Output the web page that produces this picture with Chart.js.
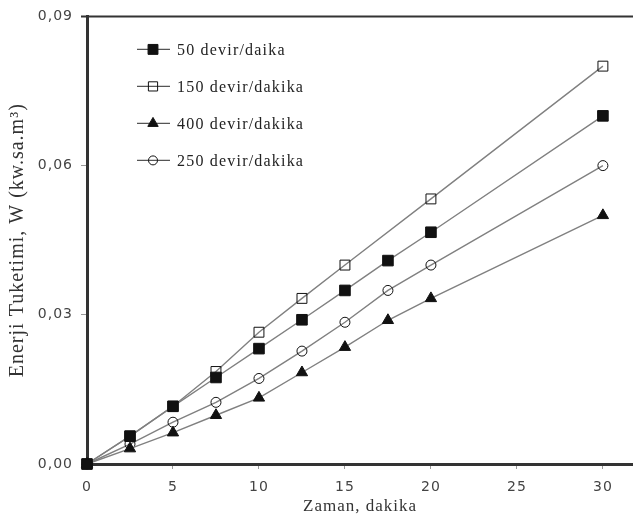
<!DOCTYPE html>
<html>
<head>
<meta charset="utf-8">
<script src="https://cdn.jsdelivr.net/npm/chart.js@4/dist/chart.umd.min.js"></script>
<style>
  html, body { margin: 0; padding: 0; background: #fff; overflow: hidden; }
  #wrap { width: 633px; height: 520px; position: relative; }
</style>
</head>
<body>
<div id="wrap"><canvas id="chart"></canvas></div>
<script>
  // time in minutes
  const timeFull = [0, 2.5, 5, 7.5, 10, 12.5, 15, 17.5, 20, 30];
  const time150 = [0, 2.5, 5, 7.5, 10, 12.5, 15, 20, 30];

  const rpm50 = [0, 0.0056, 0.0116, 0.0174, 0.0232, 0.0290, 0.0349, 0.0409, 0.0466, 0.070];
  const rpm150 = [0, 0.0056, 0.0116, 0.0186, 0.0265, 0.0333, 0.0400, 0.0533, 0.080];
  const rpm400 = [0, 0.0031, 0.0063, 0.0098, 0.0133, 0.0184, 0.0235, 0.0289, 0.0333, 0.050];
  const rpm250 = [0, 0.0040, 0.0084, 0.0124, 0.0172, 0.0227, 0.0285, 0.0349, 0.0400, 0.060];

  const xTicks = [0, 5, 10, 15, 20, 25, 30];
  const yTicks = [0, 0.03, 0.06, 0.09];

  const SERIES = [
    { label: "50 devir/daika", x: timeFull, y: rpm50, style: "rect", fill: "#111", radius: 7.5 },
    { label: "150 devir/dakika", x: time150, y: rpm150, style: "rect", fill: "transparent", radius: 7 },
    { label: "400 devir/dakika", x: timeFull, y: rpm400, style: "triangle", fill: "#111", radius: 6.5 },
    { label: "250 devir/dakika", x: timeFull, y: rpm250, style: "circle", fill: "transparent", radius: 5 },
  ];

  const serif = "'Liberation Serif', 'Times New Roman', serif";
  const sans = "'DejaVu Sans', sans-serif";

  const datasets = SERIES.map((s) => ({
    label: s.label,
    data: s.x.map((t, i) => ({ x: t, y: s.y[i] })),
    borderColor: "#808080",
    borderWidth: 1.4,
    pointStyle: s.style,
    pointRadius: s.radius,
    pointBackgroundColor: s.fill,
    pointBorderColor: "#111",
    pointBorderWidth: 1,
    tension: 0,
    clip: false,
  }));

  const frameAndLegend = {
    id: "frameAndLegend",
    beforeDraw(chart) {
      chart.ctx.letterSpacing = "1px";
    },
    afterDraw(chart) {
      const { ctx, chartArea } = chart;
      ctx.save();
      // top frame line
      ctx.strokeStyle = "#333";
      ctx.lineWidth = 2;
      ctx.beginPath();
      ctx.moveTo(chartArea.left - 6, chartArea.top);
      ctx.lineTo(chartArea.right, chartArea.top);
      ctx.stroke();

      // legend inside the plot
      const x0 = chartArea.left + 50;
      SERIES.forEach((s, i) => {
        const y = chartArea.top + 33 + i * 37;
        ctx.strokeStyle = "#555";
        ctx.lineWidth = 1.4;
        ctx.beginPath();
        ctx.moveTo(x0, y);
        ctx.lineTo(x0 + 33, y);
        ctx.stroke();
        ctx.fillStyle = s.fill;
        ctx.strokeStyle = "#111";
        ctx.lineWidth = 1;
        Chart.helpers.drawPoint(ctx, { pointStyle: s.style, radius: s.radius - 0.5, borderWidth: 1 }, x0 + 16, y);
        ctx.fillStyle = "#222";
        ctx.font = "16px " + serif;
        ctx.letterSpacing = "1.2px";
        ctx.textBaseline = "middle";
        ctx.textAlign = "left";
        ctx.fillText(s.label, x0 + 40, y + 1);
      });
      ctx.restore();
    },
  };

  new Chart(document.getElementById("chart"), {
    type: "line",
    data: { datasets },
    plugins: [frameAndLegend],
    options: {
      responsive: true,
      maintainAspectRatio: false,
      animation: false,
      layout: { autoPadding: false, padding: { top: 15, right: 0, left: 0, bottom: 0 } },
      plugins: { legend: { display: false }, tooltip: { enabled: false } },
      scales: {
        x: {
          type: "linear",
          min: 0,
          max: 31.75,
          afterBuildTicks(axis) {
            axis.ticks = xTicks.map((v) => ({ value: v }));
          },
          afterFit(scale) {
            scale.height = 56;
            scale.paddingLeft = 0;
            scale.paddingRight = 0;
          },
          border: { display: true, color: "#333", width: 3 },
          grid: { display: true, drawOnChartArea: false, drawTicks: true, tickLength: 5, color: "#999" },
          ticks: { color: "#444", font: { family: sans, size: 14 }, padding: 10, maxRotation: 0 },
          title: { display: true, text: "Zaman, dakika", color: "#333", font: { family: serif, size: 17 }, padding: { top: 0, bottom: 3 } },
        },
        y: {
          type: "linear",
          min: 0,
          max: 0.09,
          afterBuildTicks(axis) {
            axis.ticks = yTicks.map((v) => ({ value: v }));
          },
          afterFit(scale) { scale.width = 87; },
          border: { display: true, color: "#333", width: 3 },
          grid: { display: true, drawOnChartArea: false, drawTicks: true, tickLength: 6, color: "#999" },
          ticks: {
            color: "#444",
            font: { family: sans, size: 14 },
            padding: 8,
            callback: (v) => v.toFixed(2).replace(".", ","),
          },
          title: { display: true, text: "Enerji Tuketimi, W (kw.sa.m³)", color: "#333", font: { family: serif, size: 20 }, padding: { top: 6, bottom: 4 } },
        },
      },
    },
  });
</script>
</body>
</html>
